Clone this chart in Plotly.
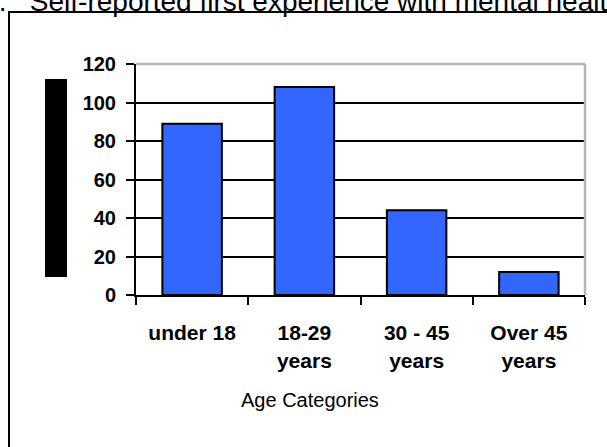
import plotly.graph_objects as go

categories = ["under 18<br>", "18-29<br>years", "30 - 45<br>years", "Over 45<br>years"]
values = [89, 108, 44, 12]
y_ticks = [0, 20, 40, 60, 80, 100, 120]
title_text = "Figure 1.\u00a0\u00a0\u00a0Self-reported first experience with mental health services"
x_title = "Age Categories"

FONT = "Liberation Sans, Arial, sans-serif"

fig = go.Figure()
fig.add_trace(go.Bar(
    x=categories, y=values,
    marker=dict(color="#3366FF", line=dict(color="black", width=2)),
))

# plot area pixel geometry: x 136..585, y 64..295
L, R, T, B = 136, 585, 64, 295
W, H = R - L, B - T

def px(x):
    return (x - L) / W

def py(y):
    return (B - y) / H

fig.update_layout(
    width=607, height=447,
    margin=dict(l=L, r=607 - R, t=T, b=447 - B),
    paper_bgcolor="white", plot_bgcolor="white",
    bargap=0.47, showlegend=False,
    font=dict(family=FONT, color="black"),
    xaxis=dict(
        type="category", range=[-0.5, 3.5],
        showline=True, linecolor="black", linewidth=2,
        ticks="outside", tickson="boundaries", ticklen=8, tickwidth=2, tickcolor="black",
        tickfont=dict(family=FONT, size=21, weight="bold", color="black"),
        ticklabelstandoff=18,
        showgrid=False, fixedrange=True,
    ),
    yaxis=dict(
        range=[0, 120], tickvals=y_ticks,
        showline=True, linecolor="black", linewidth=2,
        ticks="outside", ticklen=8, tickwidth=2, tickcolor="black",
        tickfont=dict(family=FONT, size=20, weight="bold", color="black"),
        ticklabelstandoff=6,
        showgrid=True, gridcolor="black", gridwidth=2,
        zeroline=False, fixedrange=True,
    ),
    shapes=[
        # outer chart border
        dict(type="rect", xref="paper", yref="paper",
             x0=px(9), x1=px(640), y0=py(480), y1=py(12),
             line=dict(color="black", width=2), fillcolor="rgba(0,0,0,0)", layer="above"),
        # black box (y-axis title placeholder)
        dict(type="rect", xref="paper", yref="paper",
             x0=px(45), x1=px(67), y0=py(277), y1=py(79),
             line=dict(width=0), fillcolor="black", layer="above"),
        # gray plot frame top and right
        dict(type="line", xref="paper", yref="paper", x0=0, x1=1, y0=1, y1=1,
             line=dict(color="#B4B4B4", width=2.5), layer="above"),
        dict(type="line", xref="paper", yref="paper", x0=1, x1=1, y0=0, y1=1,
             line=dict(color="#B4B4B4", width=2.5), layer="above"),
    ],
    annotations=[
        dict(text=title_text, xref="paper", yref="paper",
             x=px(-106), y=py(1), xanchor="left", yanchor="middle",
             showarrow=False, font=dict(family=FONT, size=28, color="black")),
        dict(text=x_title, xref="paper", yref="paper",
             x=px(310), y=py(400), xanchor="center", yanchor="middle",
             showarrow=False, font=dict(family=FONT, size=20, color="black")),
    ],
)

fig.write_html("out.html")
